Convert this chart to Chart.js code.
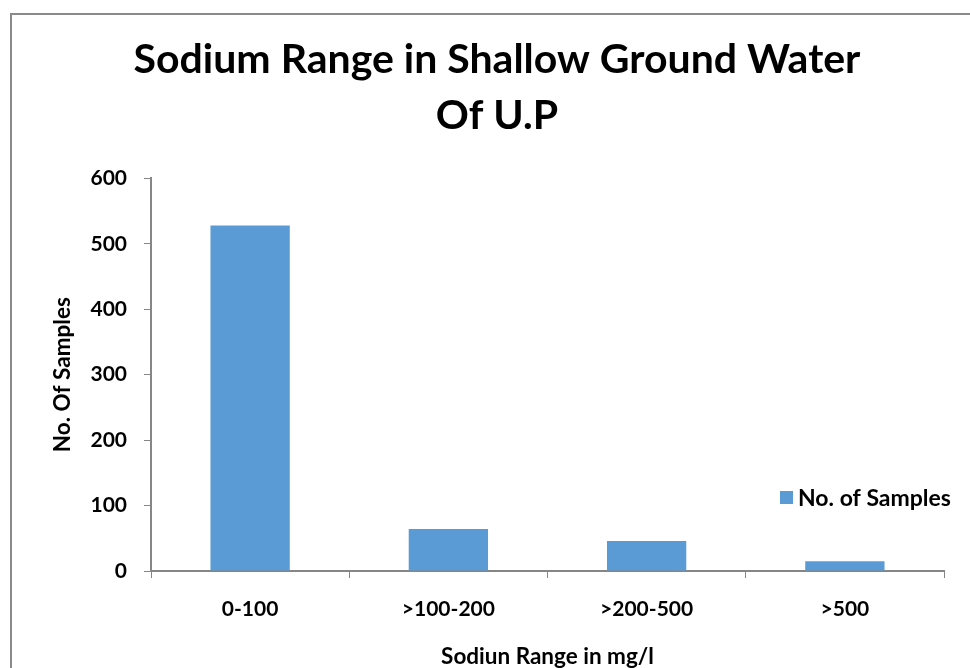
<!DOCTYPE html>
<html>
<head>
<meta charset="utf-8">
<script src="https://cdn.jsdelivr.net/npm/chart.js@4.4.1/dist/chart.umd.min.js"></script>
<style>
  html, body { margin: 0; padding: 0; background: #ffffff; }
  #wrap { position: relative; width: 970px; height: 668px; }
</style>
</head>
<body>
<div id="wrap"><canvas id="c" width="970" height="668"></canvas></div>
<script>
const categories = ['0-100', '>100-200', '>200-500', '>500'];
const samples = [528, 64, 46, 15];
const seriesLabel = 'No. of Samples';
const titleLines = ['Sodium Range in Shallow Ground Water', 'Of U.P'];
const xTitle = 'Sodiun Range in mg/l';
const yTitle = 'No. Of Samples';

const FONT = 'Lato, "Open Sans", sans-serif';
const BAR = '#5B9BD5';
const AXIS = '#868686';

const frame = {
  id: 'frame',
  beforeDraw(chart) {
    const ctx = chart.ctx;
    ctx.save();
    ctx.fillStyle = '#ffffff';
    ctx.fillRect(0, 0, chart.width, chart.height);
    ctx.strokeStyle = '#8a8a8a';
    ctx.lineWidth = 2;
    ctx.strokeRect(11, 14, 1100, 800);
    ctx.restore();
  }
};

const customLegend = {
  id: 'customLegend',
  afterDraw(chart) {
    const ctx = chart.ctx;
    const ds = chart.data.datasets[0];
    ctx.save();
    ctx.fillStyle = ds.backgroundColor;
    ctx.fillRect(780, 491, 13, 13);
    ctx.fillStyle = '#000000';
    ctx.font = 'bold 23px ' + FONT;
    ctx.textBaseline = 'middle';
    ctx.textAlign = 'left';
    ctx.fillText(ds.label, 798, 499);
    ctx.restore();
  }
};

new Chart(document.getElementById('c'), {
  type: 'bar',
  data: {
    labels: categories,
    datasets: [{
      label: seriesLabel,
      data: samples,
      backgroundColor: BAR,
      borderWidth: 0,
      categoryPercentage: 1.0,
      barPercentage: 0.4
    }]
  },
  options: {
    responsive: false,
    animation: false,
    devicePixelRatio: 1,
    layout: { padding: { left: 50, right: 26, top: 0, bottom: 0 } },
    plugins: {
      legend: { display: false },
      tooltip: { enabled: false },
      title: {
        display: true,
        text: titleLines,
        color: '#000000',
        font: { family: FONT, size: 41, weight: 'bold', lineHeight: 1.37 },
        padding: { top: 31.5, bottom: 34.5 }
      }
    },
    scales: {
      x: {
        grid: { display: true, drawOnChartArea: false, drawTicks: true, tickLength: 7, color: AXIS, offset: true },
        border: { display: true, color: AXIS, width: 2 },
        ticks: { color: '#000000', font: { family: FONT, size: 21, weight: 'bold' }, padding: 19, maxRotation: 0 },
        title: { display: true, text: xTitle, color: '#000000', font: { family: FONT, size: 22.5, weight: 'bold' }, padding: { top: 0, bottom: -2 } },
        afterFit(scale) { scale.height = 97; }
      },
      y: {
        min: 0,
        max: 600,
        ticks: { stepSize: 100, color: '#000000', font: { family: FONT, size: 21, weight: 'bold' }, padding: 17 },
        grid: { display: true, drawOnChartArea: false, drawTicks: true, tickLength: 7, color: AXIS },
        border: { display: true, color: AXIS, width: 2 },
        title: { display: true, text: yTitle, color: '#000000', font: { family: FONT, size: 22.5, weight: 'bold' }, padding: { top: -1, bottom: 0 } },
        afterFit(scale) { scale.width = 101; }
      }
    }
  },
  plugins: [frame, customLegend]
});
</script>
</body>
</html>
